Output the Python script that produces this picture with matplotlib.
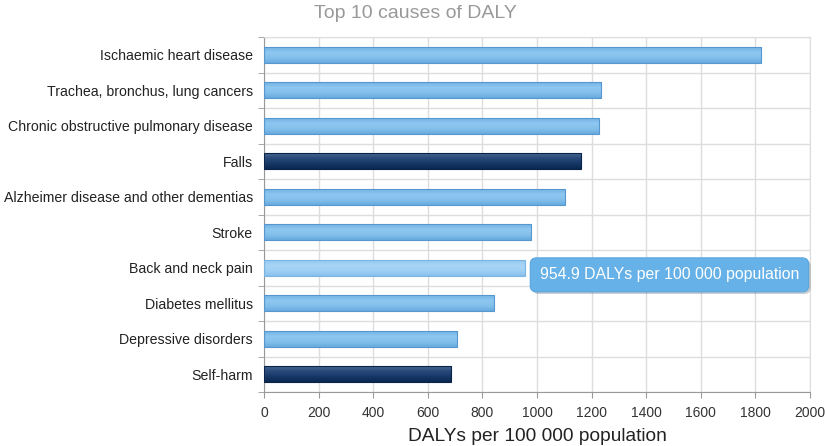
import matplotlib
matplotlib.use("Agg")
import matplotlib.pyplot as plt
import matplotlib.patheffects as pe
import numpy as np
from matplotlib.colors import LinearSegmentedColormap

plt.rcParams['font.family'] = ['Liberation Sans', 'DejaVu Sans']

categories = ["Ischaemic heart disease", "Trachea, bronchus, lung cancers",
              "Chronic obstructive pulmonary disease", "Falls",
              "Alzheimer disease and other dementias", "Stroke",
              "Back and neck pain", "Diabetes mellitus",
              "Depressive disorders", "Self-harm"]
values = [1822, 1236, 1227, 1163, 1102, 979, 954.9, 842, 707, 686]
highlight = [False, False, False, True, False, False, False, False, False, True]
hovered = 6
tooltip_text = "954.9 DALYs per 100 000 population"
xticks = [0, 200, 400, 600, 800, 1000, 1200, 1400, 1600, 1800, 2000]

fig = plt.figure(figsize=(8.25, 4.46), dpi=100)
ax = fig.add_axes([264/825, 1-392/446, (810-264)/825, (392-37)/446])

n = len(categories)
ypos = np.arange(n)
bar_h = 0.45

light = LinearSegmentedColormap.from_list("l", ["#72b3e5", "#8ec7f0", "#84c0ec", "#68abdf"])
hover = LinearSegmentedColormap.from_list("h", ["#92c8f0", "#a8d5f6", "#a0d0f4", "#88c0ec"])
dark = LinearSegmentedColormap.from_list("d", ["#46668f", "#27497a", "#163766", "#0b2850"])

bars = ax.barh(ypos, values, height=bar_h, zorder=3)
for i, b in enumerate(bars):
    if highlight[i]:
        cmap, ec = dark, "#0a2348"
    elif i == hovered:
        cmap, ec = hover, "#7ab5e3"
    else:
        cmap, ec = light, "#5697cf"
    b.set_facecolor("none")
    b.set_edgecolor(ec)
    b.set_linewidth(0.8)
    x0, y0 = b.get_x(), b.get_y()
    w, h = b.get_width(), b.get_height()
    grad = np.linspace(0, 1, 64).reshape(-1, 1)
    im = ax.imshow(grad, cmap=cmap, aspect='auto', origin='upper',
                   extent=[x0, x0 + w, y0 + h, y0], zorder=2.5)
    im.set_clip_path(b)

ax.set_xlim(0, 2000)
ax.set_ylim(n - 0.5, -0.5)
ax.set_xticks(xticks)
ax.set_xticklabels([str(t) for t in xticks], fontsize=10, color="#333333")
ax.set_yticks(ypos)
ax.set_yticklabels(categories, fontsize=10.2, color="#222222")
ax.tick_params(axis='y', length=0, pad=8)
ax.set_yticks(np.arange(-0.5, n, 1), minor=True)
ax.tick_params(axis='y', which='minor', length=4, color="#999999", direction='out')
ax.tick_params(axis='x', length=4, color="#999999", direction='out', pad=6)

ax.grid(True, axis='x', color="#dddddd", linewidth=1, zorder=0)
ax.grid(True, axis='y', which='minor', color="#dddddd", linewidth=1, zorder=0)
for s in ['top', 'right']:
    ax.spines[s].set_color("#dddddd")
ax.spines['left'].set_color("#999999")
ax.spines['bottom'].set_color("#999999")
ax.set_axisbelow(True)

ax.set_xlabel("DALYs per 100 000 population", fontsize=13.8, color="#222222", labelpad=6)
fig.text(415/825, 1 - 13/446, "Top 10 causes of DALY",
         ha='center', va='center', fontsize=14, color="#999999")

t = ax.text(1010, hovered + 0.2, tooltip_text, fontsize=11.4, color="white",
            va='center', ha='left', zorder=6,
            bbox=dict(boxstyle="round,pad=0.6,rounding_size=0.4",
                      fc="#66b1e7", ec="#5aa6df", lw=0.8))
t.get_bbox_patch().set_path_effects([pe.SimplePatchShadow(offset=(1.5, -1.5), alpha=0.25), pe.Normal()])

fig.savefig("out.png", dpi=100)
